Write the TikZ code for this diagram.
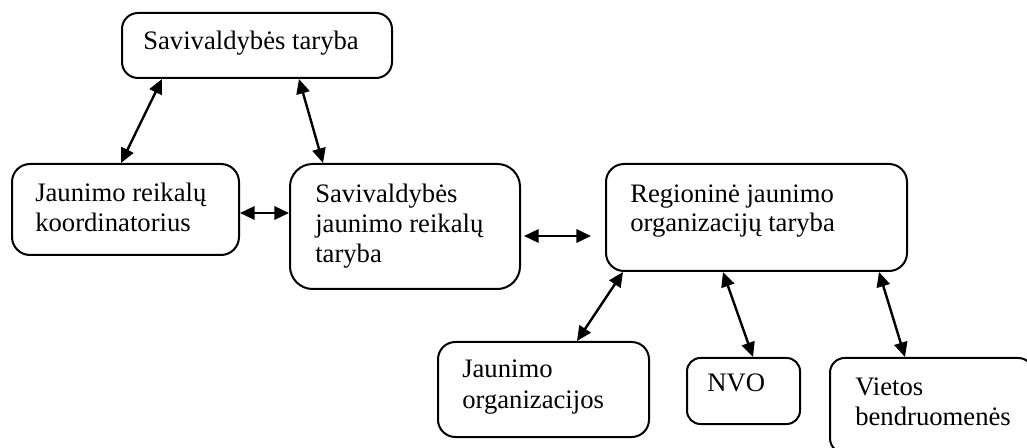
\documentclass[tikz,border=0pt]{standalone}
\usepackage{fontspec}
\setmainfont{Liberation Serif}
\usetikzlibrary{arrows.meta,calc}
\begin{document}
\begin{tikzpicture}[x=0.75pt,y=-0.75pt,
  box/.style={draw, line width=1.5pt, rounded corners=#1, inner sep=0pt, anchor=north west},
  box/.default=13pt,
  lbl/.style={anchor=base west, inner sep=0pt, font=\fontsize{20}{24}\selectfont},
  link/.style={line width=1.8pt, {Triangle[length=11pt,width=10pt]}-{Triangle[length=11pt,width=10pt]}}]
\clip (0,0) rectangle (1027,448);
\fill[white] (0,0) rectangle (1027,448);
% boxes
\node[box=12pt, minimum width=202.5pt, minimum height=48.75pt] (b1) at (121,12) {};
\node[box=13.5pt, minimum width=170.25pt, minimum height=68.25pt] (b2) at (11,163) {};
\node[box=17pt, minimum width=172.5pt, minimum height=93.75pt] (b3) at (289,163) {};
\node[box=13.5pt, minimum width=225.75pt, minimum height=80.25pt] (b4) at (605,163) {};
\node[box=13pt, minimum width=158.25pt, minimum height=71.25pt] (b5) at (437,341) {};
\node[box=10pt, minimum width=84.75pt, minimum height=49.5pt] (b6) at (686,357) {};
\node[box=11pt, minimum width=152.25pt, minimum height=71.25pt] (b7) at (829,357) {};
% texts
\node[lbl] (t1) at (143,50) {Savivaldybės taryba};
\node[lbl] (t2a) at (35,202) {Jaunimo reikalų};
\node[lbl] (t2b) at (35,232) {koordinatorius};
\node[lbl] (t3a) at (315,203) {Savivaldybės};
\node[lbl] (t3b) at (315,233) {jaunimo reikalų};
\node[lbl] (t3c) at (315,263) {taryba};
\node[lbl] (t4a) at (630,203) {Regioninė jaunimo};
\node[lbl] (t4b) at (630,232) {organizacijų taryba};
\node[lbl] (t5a) at (462,378) {Jaunimo};
\node[lbl] (t5b) at (462,408) {organizacijos};
\node[lbl] (t6) at (707,392) {NVO};
\node[lbl] (t7a) at (855,396) {Vietos};
\node[lbl] (t7b) at (855,426) {bendruomenės};
% connectors
\draw[link] ($(b1.south west)+(41,0)$) -- ($(b2.north west)+(110,0)$);
\draw[link] ($(b1.south west)+(178,0)$) -- ($(b3.north west)+(34,0)$);
\draw[link] ($(b2.north east)+(0,50)$) -- ($(b3.north west)+(0,50)$);
\draw[link] ($(b3.north east)+(3,73)$) -- ($(b4.north west)+(-14,73)$);
\draw[link] ($(b4.south west)+(18,0)$) -- ($(b5.north west)+(140,0)$);
\draw[link] ($(b4.south west)+(118,0)$) -- ($(b6.north west)+(67,0)$);
\draw[link] ($(b4.south west)+(274,0)$) -- ($(b7.north west)+(76,0)$);
\end{tikzpicture}
\end{document}
